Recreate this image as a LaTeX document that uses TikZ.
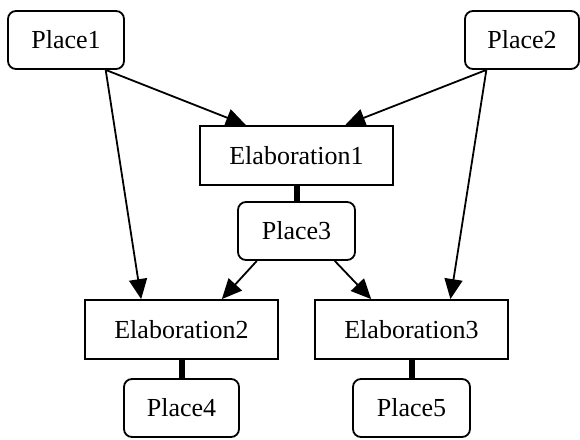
\documentclass[tikz,border=0pt]{standalone}
\usepackage{fontspec}
\setmainfont{Liberation Serif}
\newfontfamily\labelfont{Liberation Serif}
\usepackage{tikz}
\usetikzlibrary{shapes, arrows.meta, positioning, calc}

\begin{document}
\begin{tikzpicture}[x=1pt, y=-1pt,
    place/.style={draw, line width=1.8pt, rounded corners=8pt, minimum height=58pt, inner sep=0pt, font=\labelfont\fontsize{26}{30}\selectfont},
    elab/.style={draw, line width=1.8pt, minimum width=193pt, minimum height=59pt, inner sep=0pt, font=\labelfont\fontsize{26}{30}\selectfont},
    flow/.style={line width=1.8pt, -{Triangle[length=20pt, width=18pt]}},
    bond/.style={line width=6pt}]
  \useasboundingbox (0,0) rectangle (580,439);
  % places and elaborations
  \node[place, minimum width=116pt] (Place1) at (66,40) {Place1};
  \node[place, minimum width=114pt] (Place2) at (522,40) {Place2};
  \node[elab] (Elab1) at (296.5,155.5) {Elaboration1};
  \node[place, minimum width=117pt] (Place3) at (296.5,231) {Place3};
  \node[elab] (Elab2) at (181.5,329.5) {Elaboration2};
  \node[elab] (Elab3) at (411.5,329.5) {Elaboration3};
  \node[place, minimum width=115pt] (Place4) at (181.5,408) {Place4};
  \node[place, minimum width=117pt] (Place5) at (411.5,408) {Place5};
  % arrows
  \draw[flow] (Place1.-37) -- (Elab1.149);
  \draw[flow] (Place1.-37) -- (Elab2.143);
  \draw[flow] (Place2.220) -- (Elab1.32);
  \draw[flow] (Place2.220) -- (Elab3.38);
  \draw[flow] (Place3.217) -- (Elab2.37);
  \draw[flow] (Place3.-38) -- (Elab3.143);
  % thick links
  \draw[bond] (Elab1.south) -- (Place3.north);
  \draw[bond] (Elab2.south) -- (Place4.north);
  \draw[bond] (Elab3.south) -- (Place5.north);
\end{tikzpicture}
\end{document}
